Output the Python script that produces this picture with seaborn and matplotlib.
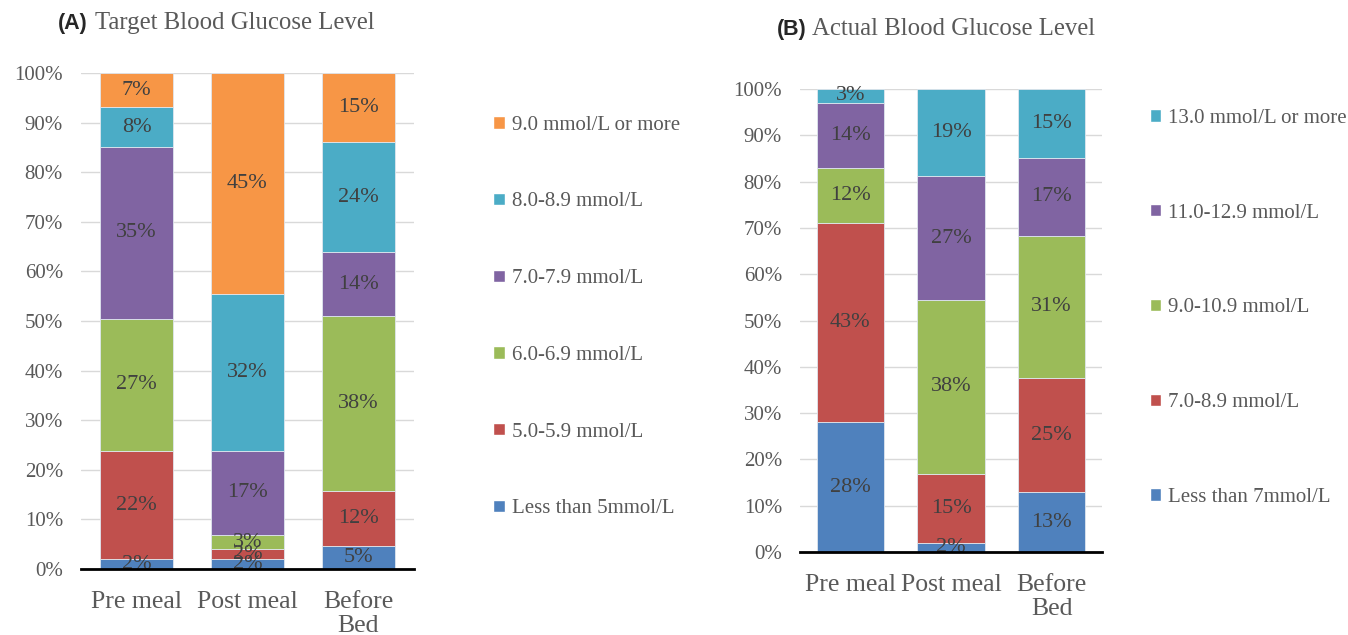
import numpy as np
import matplotlib.pyplot as plt
import seaborn as sns
from matplotlib.patches import Patch
from matplotlib.ticker import PercentFormatter, MultipleLocator

times = ["Pre meal", "Post meal", "Before\nBed"]

# (A) target levels, bottom segment first; labels are the printed percentages
target_ranges = ["Less than 5mmol/L", "5.0-5.9 mmol/L", "6.0-6.9 mmol/L",
                 "7.0-7.9 mmol/L", "8.0-8.9 mmol/L", "9.0 mmol/L or more"]
target_pct = [
    [2, 2, 5],
    [22, 2, 12],
    [27, 3, 38],
    [35, 17, 14],
    [8, 32, 24],
    [7, 45, 15],
]

# (B) actual levels
actual_ranges = ["Less than 7mmol/L", "7.0-8.9 mmol/L", "9.0-10.9 mmol/L",
                 "11.0-12.9 mmol/L", "13.0 mmol/L or more"]
actual_pct = [
    [28, 2, 13],
    [43, 15, 25],
    [12, 38, 31],
    [14, 27, 17],
    [3, 19, 15],
]

target_colors = ["#4F81BD", "#C0504D", "#9BBB59", "#8064A2", "#4BACC6", "#F79646"]
actual_colors = ["#4F81BD", "#C0504D", "#9BBB59", "#8064A2", "#4BACC6"]

SERIF = "Liberation Serif"
GREY = "#595959"

sns.set_style("white")
plt.rcParams["font.family"] = [SERIF]


def draw_panel(ax, ranges, pct, colors, width, spacing, legend_xy):
    vals = np.array(pct, dtype=float)
    share = vals / vals.sum(axis=0)  # excel 100% stacked
    bottom = np.zeros(len(times))
    for row, share_row, col in zip(pct, share, colors):
        sns.barplot(x=times, y=share_row, bottom=bottom, color=col, width=width,
                    errorbar=None, saturation=1, edgecolor="#dfe6ee", linewidth=0.6,
                    ax=ax, zorder=2)
        ax.bar_label(ax.containers[-1], labels=[f"{v}%" for v in row],
                     label_type="center", fontsize=16, color="#404040", family=SERIF)
        bottom = bottom + share_row

    ax.set_ylim(0, 1)
    ax.set_xlim(-0.5, len(times) - 0.5)
    ax.yaxis.set_major_locator(MultipleLocator(0.1))
    ax.yaxis.set_major_formatter(PercentFormatter(1.0, decimals=0))
    ax.grid(axis="y", color="#d9d9d9", linewidth=1, zorder=0)
    ax.set_axisbelow(True)
    for s in ["left", "right", "top"]:
        ax.spines[s].set_visible(False)
    ax.spines["bottom"].set_color("black")
    ax.spines["bottom"].set_linewidth(2)
    ax.spines["bottom"].set_zorder(5)
    ax.tick_params(axis="y", length=0, pad=13, labelsize=15, labelcolor=GREY)
    ax.tick_params(axis="x", length=0, pad=16, labelsize=18.5, labelcolor=GREY)
    for lbl in ax.get_xticklabels():
        lbl.set_linespacing(1.12)
    ax.set_xlabel("")
    ax.set_ylabel("")

    handles = [Patch(facecolor=c, label=r) for r, c in zip(ranges, colors)][::-1]
    ax.legend(handles=handles, loc="upper left", bbox_to_anchor=legend_xy,
              bbox_transform=ax.figure.transFigure, frameon=False,
              handlelength=0.55, handleheight=0.55, handletextpad=0.35,
              labelspacing=spacing, prop={"family": SERIF, "size": 15},
              labelcolor=GREY)


fig = plt.figure(figsize=(13.48, 6.35), dpi=100)
ax_a = fig.add_axes([0.0601, 0.1039, 0.2470, 0.7811])
ax_b = fig.add_axes([0.5935, 0.1307, 0.2240, 0.7291])

draw_panel(ax_a, target_ranges, target_pct, target_colors, 0.66, 2.77, (0.352, 1 - 97 / 635))
draw_panel(ax_b, actual_ranges, actual_pct, actual_colors, 0.667, 3.64, (0.839, 1 - 90 / 635))

fig.text(58 / 1348, 1 - 23 / 635, "(A)", fontsize=15.5, fontweight="bold",
         family="Liberation Sans", va="center")
fig.text(95 / 1348, 1 - 23 / 635, "Target Blood Glucose Level", fontsize=17.8,
         color=GREY, family=SERIF, va="center")
fig.text(777 / 1348, 1 - 29 / 635, "(B)", fontsize=15.5, fontweight="bold",
         family="Liberation Sans", va="center")
fig.text(812 / 1348, 1 - 29 / 635, "Actual Blood Glucose Level", fontsize=17.8,
         color=GREY, family=SERIF, va="center")

fig.savefig("out.png", dpi=100)
